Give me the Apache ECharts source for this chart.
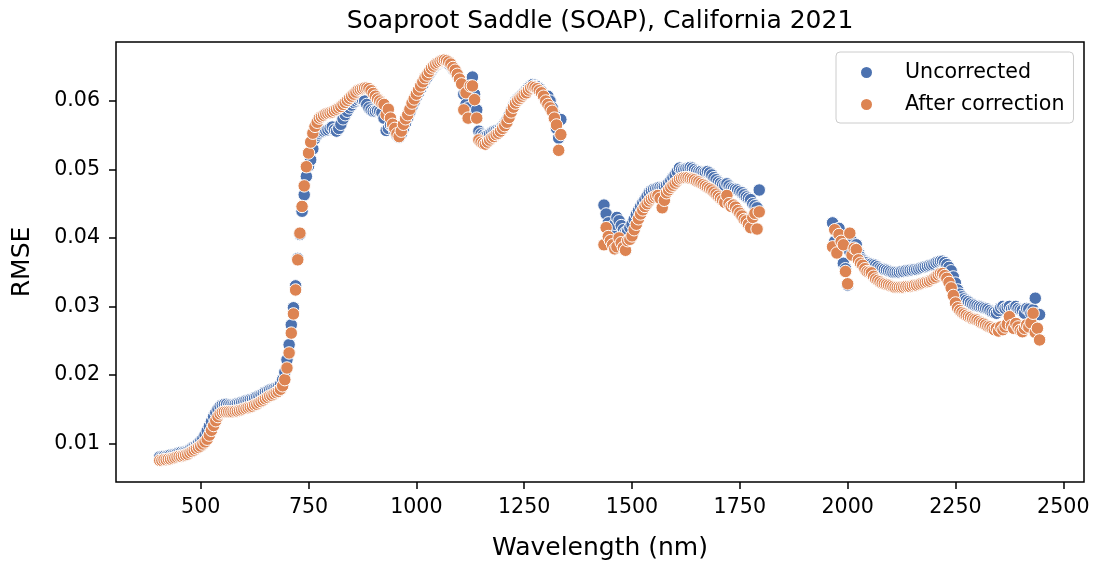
<!DOCTYPE html>
<html>
<head>
<meta charset="utf-8">
<script src="https://cdn.jsdelivr.net/npm/echarts@6/dist/echarts.min.js"></script>
<style>
  html, body { margin: 0; padding: 0; background: #ffffff; }
  #chart { width: 1094px; height: 571px; }
</style>
</head>
<body>
<div id="chart"></div>
<script>
// Band groups kept after removing the water-absorption windows (nm)
const bandStartNm = [405, 1435, 1965];
const bandEndNm = [1335, 1795, 2445];
const bandStepNm = 5;

// Tick labels
const xTicks = [500, 750, 1000, 1250, 1500, 1750, 2000, 2250, 2500];
const yTicks = [0.01, 0.02, 0.03, 0.04, 0.05, 0.06];

const seriesNames = ['Uncorrected', 'After correction'];

// RMSE per band, uncorrected reflectance
const rmseUncorrected1 = [
  0.0080, 0.0080, 0.0081, 0.0081, 0.0082, 0.0083, 0.0083, 0.0084, 0.0085, 0.0086,
  0.0087, 0.0087, 0.0088, 0.0089, 0.0091, 0.0093, 0.0095, 0.0097, 0.0100, 0.0103,
  0.0107, 0.0112, 0.0118, 0.0125, 0.0132, 0.0139, 0.0145, 0.0150, 0.0154, 0.0156,
  0.0157, 0.0157, 0.0156, 0.0156, 0.0156, 0.0157, 0.0158, 0.0159, 0.0160, 0.0161,
  0.0162, 0.0163, 0.0164, 0.0165, 0.0166, 0.0168, 0.0169, 0.0171, 0.0173, 0.0175,
  0.0176, 0.0178, 0.0179, 0.0180, 0.0181, 0.0183, 0.0186, 0.0193, 0.0204, 0.0222,
  0.0244, 0.0273, 0.0298, 0.0330, 0.0370, 0.0405, 0.0439, 0.0463, 0.0490, 0.0505,
  0.0514, 0.0530, 0.0545, 0.0550, 0.0553, 0.0555, 0.0556, 0.0557, 0.0558, 0.0560,
  0.0562, 0.0558, 0.0556, 0.0560, 0.0566, 0.0574, 0.0580, 0.0585, 0.0590, 0.0594,
  0.0598, 0.0600, 0.0602, 0.0603, 0.0602, 0.0600, 0.0595, 0.0590, 0.0587, 0.0585,
  0.0585, 0.0586, 0.0585, 0.0583, 0.0575, 0.0557, 0.0560, 0.0565, 0.0563, 0.0556,
  0.0550, 0.0547, 0.0552, 0.0560, 0.0568, 0.0576, 0.0584, 0.0592, 0.0599, 0.0606,
  0.0612, 0.0618, 0.0624, 0.0630, 0.0635, 0.0640, 0.0645, 0.0649, 0.0652, 0.0654,
  0.0656, 0.0657, 0.0657, 0.0656, 0.0654, 0.0651, 0.0647, 0.0643, 0.0638, 0.0633,
  0.0628, 0.0610, 0.0595, 0.0590, 0.0612, 0.0635, 0.0610, 0.0587, 0.0556, 0.0552,
  0.0550, 0.0549, 0.0550, 0.0552, 0.0554, 0.0556, 0.0557, 0.0558, 0.0560, 0.0563,
  0.0567, 0.0572, 0.0579, 0.0586, 0.0593, 0.0599, 0.0603, 0.0606, 0.0609, 0.0612,
  0.0615, 0.0619, 0.0622, 0.0624, 0.0623, 0.0621, 0.0618, 0.0614, 0.0609, 0.0606,
  0.0607, 0.0600, 0.0590, 0.0580, 0.0560, 0.0546, 0.0573
];
const rmseUncorrected2 = [
  0.0448, 0.0435, 0.0422, 0.0415, 0.0410, 0.0420, 0.0430, 0.0425, 0.0418, 0.0412,
  0.0408, 0.0410, 0.0415, 0.0420, 0.0427, 0.0434, 0.0440, 0.0446, 0.0451, 0.0456,
  0.0461, 0.0466, 0.0469, 0.0471, 0.0472, 0.0473, 0.0474, 0.0474, 0.0475, 0.0477,
  0.0480, 0.0484, 0.0488, 0.0492, 0.0497, 0.0502, 0.0500, 0.0500, 0.0501, 0.0502,
  0.0503, 0.0502, 0.0500, 0.0498, 0.0497, 0.0497, 0.0496, 0.0496, 0.0497, 0.0495,
  0.0492, 0.0488, 0.0485, 0.0482, 0.0480, 0.0478, 0.0477, 0.0479, 0.0476, 0.0473,
  0.0472, 0.0471, 0.0470, 0.0468, 0.0466, 0.0463, 0.0460, 0.0458, 0.0456, 0.0450,
  0.0447, 0.0444, 0.0470
];
const rmseUncorrected3 = [
  0.0422, 0.0395, 0.0408, 0.0414, 0.0395, 0.0363, 0.0355, 0.0331, 0.0380, 0.0395,
  0.0388, 0.0390, 0.0378, 0.0372, 0.0368, 0.0366, 0.0364, 0.0362, 0.0362, 0.0361,
  0.0360, 0.0358, 0.0356, 0.0355, 0.0354, 0.0353, 0.0352, 0.0351, 0.0350, 0.0350,
  0.0350, 0.0350, 0.0351, 0.0351, 0.0352, 0.0352, 0.0353, 0.0353, 0.0354, 0.0354,
  0.0355, 0.0356, 0.0357, 0.0358, 0.0359, 0.0360, 0.0361, 0.0362, 0.0364, 0.0365,
  0.0366, 0.0366, 0.0364, 0.0361, 0.0357, 0.0352, 0.0343, 0.0334, 0.0324, 0.0318,
  0.0314, 0.0311, 0.0309, 0.0307, 0.0305, 0.0303, 0.0302, 0.0301, 0.0300, 0.0299,
  0.0298, 0.0297, 0.0296, 0.0294, 0.0292, 0.0291, 0.0290, 0.0294, 0.0298, 0.0300,
  0.0297, 0.0299, 0.0300, 0.0296, 0.0298, 0.0300, 0.0297, 0.0295, 0.0294, 0.0290,
  0.0297, 0.0296, 0.0290, 0.0295, 0.0312, 0.0289, 0.0288
];

// RMSE per band, after correction
const rmseCorrected1 = [
  0.0075, 0.0075, 0.0076, 0.0076, 0.0077, 0.0077, 0.0078, 0.0079, 0.0080, 0.0081,
  0.0081, 0.0082, 0.0083, 0.0084, 0.0086, 0.0088, 0.0090, 0.0092, 0.0094, 0.0096,
  0.0099, 0.0102, 0.0106, 0.0112, 0.0119, 0.0126, 0.0133, 0.0139, 0.0143, 0.0145,
  0.0146, 0.0146, 0.0146, 0.0146, 0.0146, 0.0147, 0.0147, 0.0148, 0.0149, 0.0150,
  0.0151, 0.0152, 0.0153, 0.0154, 0.0156, 0.0157, 0.0159, 0.0161, 0.0163, 0.0165,
  0.0167, 0.0169, 0.0170, 0.0172, 0.0174, 0.0176, 0.0179, 0.0184, 0.0193, 0.0210,
  0.0232, 0.0261, 0.0289, 0.0324, 0.0368, 0.0407, 0.0446, 0.0476, 0.0504, 0.0524,
  0.0540, 0.0553, 0.0563, 0.0569, 0.0575, 0.0577, 0.0579, 0.0581, 0.0582, 0.0583,
  0.0584, 0.0586, 0.0588, 0.0590, 0.0592, 0.0595, 0.0598, 0.0601, 0.0604, 0.0607,
  0.0610, 0.0613, 0.0616, 0.0617, 0.0618, 0.0619, 0.0619, 0.0618, 0.0615, 0.0611,
  0.0607, 0.0603, 0.0600, 0.0597, 0.0595, 0.0580, 0.0588, 0.0575, 0.0566, 0.0560,
  0.0552, 0.0548, 0.0556, 0.0566, 0.0574, 0.0580, 0.0588, 0.0597, 0.0603, 0.0610,
  0.0616, 0.0622, 0.0628, 0.0634, 0.0638, 0.0643, 0.0648, 0.0651, 0.0654, 0.0656,
  0.0658, 0.0659, 0.0660, 0.0659, 0.0657, 0.0654, 0.0649, 0.0645, 0.0639, 0.0632,
  0.0625, 0.0587, 0.0612, 0.0575, 0.0622, 0.0622, 0.0602, 0.0575, 0.0543, 0.0540,
  0.0538, 0.0537, 0.0540, 0.0543, 0.0546, 0.0548, 0.0551, 0.0553, 0.0556, 0.0560,
  0.0564, 0.0569, 0.0576, 0.0584, 0.0591, 0.0597, 0.0601, 0.0604, 0.0607, 0.0610,
  0.0612, 0.0616, 0.0619, 0.0621, 0.0620, 0.0618, 0.0615, 0.0612, 0.0607, 0.0600,
  0.0595, 0.0590, 0.0585, 0.0575, 0.0565, 0.0528, 0.0551
];
const rmseCorrected2 = [
  0.0390, 0.0415, 0.0402, 0.0396, 0.0390, 0.0384, 0.0387, 0.0400, 0.0393, 0.0386,
  0.0382, 0.0396, 0.0398, 0.0403, 0.0412, 0.0420, 0.0428, 0.0435, 0.0441, 0.0446,
  0.0450, 0.0454, 0.0457, 0.0459, 0.0461, 0.0462, 0.0458, 0.0444, 0.0455, 0.0466,
  0.0470, 0.0474, 0.0477, 0.0480, 0.0483, 0.0486, 0.0487, 0.0488, 0.0488, 0.0488,
  0.0487, 0.0486, 0.0485, 0.0483, 0.0482, 0.0480, 0.0478, 0.0476, 0.0474, 0.0472,
  0.0470, 0.0467, 0.0464, 0.0461, 0.0458, 0.0455, 0.0452, 0.0462, 0.0450, 0.0446,
  0.0448, 0.0445, 0.0440, 0.0436, 0.0432, 0.0427, 0.0425, 0.0420, 0.0415, 0.0430,
  0.0436, 0.0413, 0.0438
];
const rmseCorrected3 = [
  0.0387, 0.0412, 0.0378, 0.0405, 0.0395, 0.0390, 0.0351, 0.0333, 0.0407, 0.0375,
  0.0385, 0.0383, 0.0368, 0.0363, 0.0360, 0.0355, 0.0351, 0.0350, 0.0349, 0.0344,
  0.0340, 0.0338, 0.0336, 0.0334, 0.0333, 0.0332, 0.0331, 0.0330, 0.0329, 0.0328,
  0.0328, 0.0328, 0.0328, 0.0328, 0.0329, 0.0329, 0.0329, 0.0330, 0.0331, 0.0331,
  0.0332, 0.0333, 0.0334, 0.0335, 0.0336, 0.0337, 0.0339, 0.0341, 0.0343, 0.0346,
  0.0348, 0.0348, 0.0345, 0.0341, 0.0335, 0.0327, 0.0316, 0.0305, 0.0298, 0.0294,
  0.0291, 0.0289, 0.0287, 0.0285, 0.0284, 0.0282, 0.0281, 0.0280, 0.0278, 0.0276,
  0.0275, 0.0273, 0.0271, 0.0270, 0.0268, 0.0266, 0.0268, 0.0264, 0.0270, 0.0266,
  0.0270, 0.0274, 0.0285, 0.0272, 0.0268, 0.0275, 0.0270, 0.0265, 0.0263, 0.0268,
  0.0273, 0.0270, 0.0276, 0.0290, 0.0262, 0.0268, 0.0251
];

// Pair each band-group's values with its band centres
function bandPoints(groups) {
  const pts = [];
  groups.forEach(function (vals, g) {
    for (let i = 0; i < vals.length; i++) {
      const nm = bandStartNm[g] + i * bandStepNm;
      if (nm > bandEndNm[g]) break;
      pts.push([nm, vals[i]]);
    }
  });
  return pts;
}

const uncorrectedPts = bandPoints([rmseUncorrected1, rmseUncorrected2, rmseUncorrected3]);
const correctedPts = bandPoints([rmseCorrected1, rmseCorrected2, rmseCorrected3]);

const FONT = 'DejaVu Sans';
const INK = '#000000';
const TICK_FONT = 20.6;

const chart = echarts.init(document.getElementById('chart'), null, { renderer: 'canvas' });

chart.setOption({
  animation: false,
  backgroundColor: '#ffffff',
  grid: {
    left: 116, right: 10, top: 42, bottom: 89,
    show: true, borderColor: INK, borderWidth: 1.5, backgroundColor: 'transparent'
  },
  graphic: [{
    type: 'text', x: 600, y: 21,
    style: {
      text: 'Soaproot Saddle (SOAP), California 2021',
      fontFamily: FONT, fontSize: 25, fill: INK,
      align: 'center', verticalAlign: 'middle'
    }
  }],
  legend: {
    orient: 'vertical', left: 836, top: 52,
    selectedMode: false,
    icon: 'circle', itemWidth: 13, itemHeight: 13, itemGap: 11,
    padding: [10, 9, 8, 23],
    borderColor: '#cccccc', borderWidth: 1, borderRadius: 4,
    backgroundColor: 'rgba(255,255,255,0.8)',
    textStyle: { fontFamily: FONT, fontSize: TICK_FONT, color: INK, padding: [0, 0, 0, 27] },
    data: seriesNames
  },
  xAxis: {
    type: 'value', min: 303.6, max: 2548,
    name: 'Wavelength (nm)', nameLocation: 'middle', nameGap: 54,
    nameTextStyle: { fontFamily: FONT, fontSize: 25, color: INK },
    axisLine: { show: false },
    axisTick: { show: true, length: 7, customValues: xTicks, lineStyle: { color: INK, width: 1.5 } },
    axisLabel: {
      customValues: xTicks, margin: 15, fontFamily: FONT, fontSize: TICK_FONT, color: INK,
      formatter: function (v) { return String(v); }
    },
    splitLine: { show: false }
  },
  yAxis: {
    type: 'value', min: 0.00435, max: 0.06862,
    name: 'RMSE', nameLocation: 'middle', nameGap: 81,
    nameTextStyle: { fontFamily: FONT, fontSize: 25, color: INK },
    axisLine: { show: false },
    axisTick: { show: true, length: 7, customValues: yTicks, lineStyle: { color: INK, width: 1.5 } },
    axisLabel: {
      customValues: yTicks, margin: 16, fontFamily: FONT, fontSize: TICK_FONT, color: INK,
      formatter: function (v) { return v.toFixed(2); }
    },
    splitLine: { show: false }
  },
  series: [
    {
      name: seriesNames[0], type: 'scatter', data: uncorrectedPts,
      symbol: 'circle', symbolSize: 12.5, large: false,
      itemStyle: { color: '#4C72B0', borderColor: '#ffffff', borderWidth: 1, opacity: 1 },
      emphasis: { disabled: true }
    },
    {
      name: seriesNames[1], type: 'scatter', data: correctedPts,
      symbol: 'circle', symbolSize: 12.5, large: false,
      itemStyle: { color: '#DD8452', borderColor: '#ffffff', borderWidth: 1, opacity: 1 },
      emphasis: { disabled: true }
    }
  ]
});
</script>
</body>
</html>
